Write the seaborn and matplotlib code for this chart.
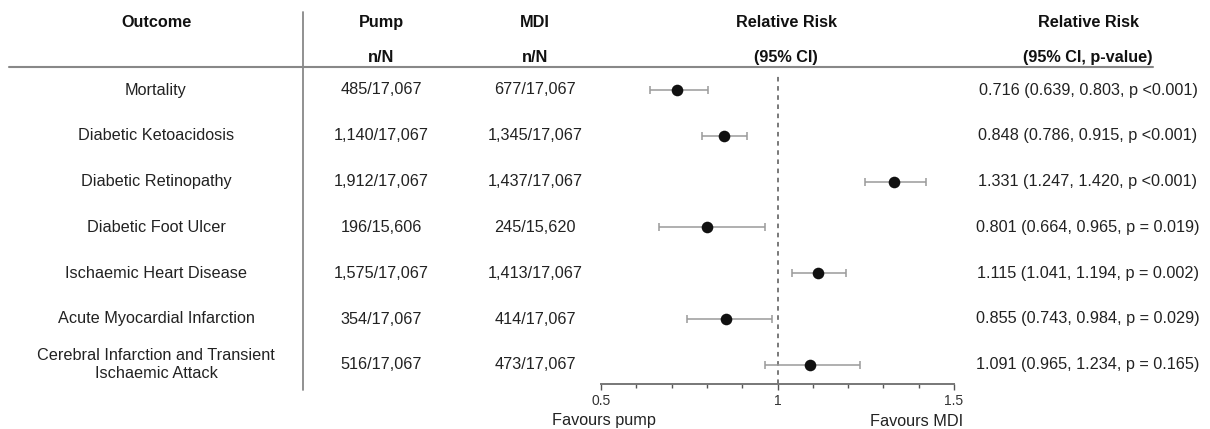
import numpy as np
import matplotlib
matplotlib.use("Agg")
import matplotlib.pyplot as plt
import matplotlib.transforms as mtransforms
from matplotlib.ticker import MultipleLocator
import seaborn as sns

outcomes = ["Mortality", "Diabetic Ketoacidosis", "Diabetic Retinopathy",
            "Diabetic Foot Ulcer", "Ischaemic Heart Disease",
            "Acute Myocardial Infarction",
            "Cerebral Infarction and Transient\nIschaemic Attack"]
pump_counts = ["485/17,067", "1,140/17,067", "1,912/17,067", "196/15,606",
               "1,575/17,067", "354/17,067", "516/17,067"]
mdi_counts = ["677/17,067", "1,345/17,067", "1,437/17,067", "245/15,620",
              "1,413/17,067", "414/17,067", "473/17,067"]
rr = [0.716, 0.848, 1.331, 0.801, 1.115, 0.855, 1.091]
ci_low = [0.639, 0.786, 1.247, 0.664, 1.041, 0.743, 0.965]
ci_high = [0.803, 0.915, 1.420, 0.965, 1.194, 0.984, 1.234]
p_text = ["p <0.001", "p <0.001", "p <0.001", "p = 0.019",
          "p = 0.002", "p = 0.029", "p = 0.165"]

sns.set_theme(style="white")
plt.rcParams['font.family'] = ['Liberation Sans', 'DejaVu Sans']

W, H = 1210, 429
fig = plt.figure(figsize=(W / 100, H / 100), dpi=100)
ax = fig.add_axes([601 / W, (H - 384) / H, 353 / W, 384 / H])

rows = np.arange(len(outcomes))
df_rows = dict(x=rr, y=rows)

# confidence intervals then point estimates
ax.errorbar(rr, rows, xerr=[np.array(rr) - np.array(ci_low), np.array(ci_high) - np.array(rr)],
            fmt="none", ecolor="#9a9a9a", elinewidth=1.1, capsize=3.2, capthick=1.1, zorder=2)
sns.scatterplot(x="x", y="y", data=df_rows, ax=ax, color="#111111", s=70,
                edgecolor="#111111", linewidth=0, zorder=3, legend=False)
ax.axvline(1, ymin=0, ymax=(384 - 74) / 384, color="#555555", linestyle=(0, (3, 3)),
           linewidth=1.1, zorder=1)

row_px = 45.8
ax.set_ylim((384 - 90) / row_px, -90 / row_px)
ax.set_xlim(0.5, 1.5)
ax.set_xticks([0.5, 1, 1.5])
ax.set_xticklabels(["0.5", "1", "1.5"])
ax.xaxis.set_minor_locator(MultipleLocator(0.1))
ax.tick_params(axis="x", which="major", direction="out", length=4, width=1, color="#555555",
               labelsize=10, labelcolor="#333333", pad=3, bottom=True)
ax.tick_params(axis="x", which="minor", direction="out", length=3, width=1, color="#555555",
               bottom=True)
ax.set_yticks([])
ax.set_xlabel("")
ax.set_ylabel("")
for s in ["top", "left", "right"]:
    ax.spines[s].set_visible(False)
ax.spines["bottom"].set_color("#777777")
ax.spines["bottom"].set_linewidth(1.4)
ax.set_facecolor("none")

trans = mtransforms.blended_transform_factory(fig.transFigure, ax.transData)
hdr_y1 = (21 - 90) / row_px
hdr_y2 = (56 - 90) / row_px
rule_y = (67 - 90) / row_px
col_x = [156 / W, 381 / W, 535 / W, 786 / W, 1088 / W]
fs = 11.7
body_color = "#222222"

headers1 = ["Outcome", "Pump", "MDI", "Relative Risk", "Relative Risk"]
headers2 = ["", "n/N", "n/N", "(95% CI)", "(95% CI, p-value)"]
for x, h1, h2 in zip(col_x, headers1, headers2):
    ax.text(x, hdr_y1, h1, transform=trans, ha="center", va="center_baseline",
            fontsize=fs, fontweight="bold", color="#111111")
    if h2:
        ax.text(x, hdr_y2, h2, transform=trans, ha="center", va="center_baseline",
                fontsize=fs, fontweight="bold", color="#111111")

for i in rows:
    ax.text(col_x[0], i, outcomes[i], transform=trans, ha="center", va="center",
            fontsize=fs, color=body_color, linespacing=1.25)
    ax.text(col_x[1], i, pump_counts[i], transform=trans, ha="center", va="center",
            fontsize=fs, color=body_color)
    ax.text(col_x[2], i, mdi_counts[i], transform=trans, ha="center", va="center",
            fontsize=fs, color=body_color)
    label = f"{rr[i]:.3f} ({ci_low[i]:.3f}, {ci_high[i]:.3f}, {p_text[i]})"
    ax.text(col_x[4], i, label, transform=trans, ha="center", va="center",
            fontsize=fs, color=body_color)

# table rules
ax.plot([9 / W, 1153 / W], [rule_y, rule_y], transform=trans, color="#888888",
        linewidth=1.5, clip_on=False)
ax.plot([303 / W, 303 / W], [(12 - 90) / row_px, (390 - 90) / row_px], transform=trans,
        color="#888888", linewidth=1.3, clip_on=False)

fig.text(604 / W, 1 - 421 / H, "Favours pump", ha="center", va="center",
         fontsize=fs, color=body_color)
fig.text(917 / W, 1 - 421 / H, "Favours MDI", ha="center", va="center",
         fontsize=fs, color=body_color)

fig.savefig("out.png", dpi=100)
